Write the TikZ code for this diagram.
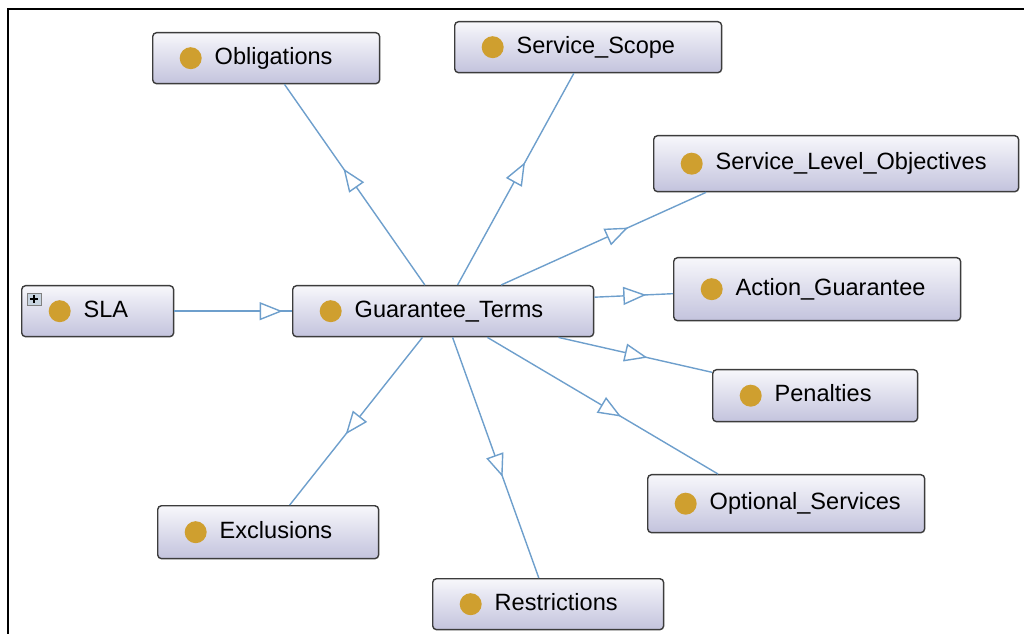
\documentclass[tikz,border=0pt]{standalone}
\usepackage{fontspec}
\setmainfont{Liberation Sans}
\usetikzlibrary{arrows.meta, decorations.markings}

\definecolor{edgecol}{HTML}{6E9FCC}
\definecolor{dotcol}{HTML}{CF9F2F}
\definecolor{boxline}{HTML}{3C3C3C}
\definecolor{boxtop}{HTML}{F7F7FB}
\definecolor{boxbot}{HTML}{C3C3DD}
\definecolor{iconfill}{HTML}{C8D4E0}

\tikzset{
  cls/.style={draw=boxline, line width=0.8pt, rounded corners=2.2pt,
    top color=boxtop, bottom color=boxbot, anchor=north west,
    inner xsep=0pt, inner ysep=0pt, text width=#1, align=left,
    text height=0.34cm, text depth=0.1cm, minimum height=1.02cm,
    font=\fontsize{13.4}{16}\selectfont,
    path picture={\fill[dotcol] ([xshift=0.76cm]path picture bounding box.west) circle (0.22cm);}},
  isa/.style={draw=edgecol, color=edgecol, line width=0.8pt, postaction={decorate},
    decoration={markings, mark=at position #1 with {\arrow{Triangle[fill=white, length=0.46cm, width=0.36cm]}}}},
  isa/.default=0.58
}

\begin{document}
\begin{tikzpicture}[x=0.02cm, y=-0.02cm]
      \useasboundingbox (0,0) rectangle (1024,634);
      % Frame:
      \draw[line width=1.2pt] (8,634) -- (8,9) -- (1024,9);
      % Classes:
      \node[cls=3.04cm] (sla) at (21,285) {\hspace*{1.24cm}SLA};
      \node[cls=6.02cm] (gt) at (292,285) {\hspace*{1.24cm}Guarantee\_Terms};
      \node[cls=4.54cm] (obl) at (152,32) {\hspace*{1.24cm}Obligations};
      \node[cls=5.34cm] (scope) at (454,21) {\hspace*{1.24cm}Service\_Scope};
      \node[cls=7.30cm, minimum height=1.12cm] (slo) at (653,135) {\hspace*{1.24cm}Service\_Level\_Objectives};
      \node[cls=5.74cm, minimum height=1.26cm] (action) at (673,257) {\hspace*{1.24cm}Action\_Guarantee};
      \node[cls=4.10cm, minimum height=1.04cm] (pen) at (712,369) {\hspace*{1.24cm}Penalties};
      \node[cls=5.54cm, minimum height=1.16cm] (opt) at (647,474) {\hspace*{1.24cm}Optional\_Services};
      \node[cls=4.42cm, minimum height=1.06cm] (excl) at (157,505) {\hspace*{1.24cm}Exclusions};
      \node[cls=4.62cm] (restr) at (432,578) {\hspace*{1.24cm}Restrictions};
      % Expand icon on SLA:
      \draw[draw=gray, fill=iconfill, line width=0.4pt] ([shift={(0.12cm,-0.16cm)}]sla.north west) rectangle ++(0.28cm,-0.24cm);
      \draw[line width=0.9pt] ([shift={(0.18cm,-0.28cm)}]sla.north west) -- ++(0.16cm,0);
      \draw[line width=0.9pt] ([shift={(0.26cm,-0.20cm)}]sla.north west) -- ++(0,-0.16cm);
      % Subclass links:
      \draw[isa=0.92] (sla) -- (gt);
      \foreach \n in {obl,scope,pen,restr,excl} \draw[isa] (gt) -- (\n);
      \draw[isa=0.62] (gt) -- ([xshift=1.06cm]slo.south west);
      \draw[isa=0.66] ([yshift=0.28cm]gt.east) -- ([yshift=-0.09cm]action.west);
      \draw[isa] (gt) -- ([xshift=1.42cm]opt.north west);
\end{tikzpicture}
\end{document}
